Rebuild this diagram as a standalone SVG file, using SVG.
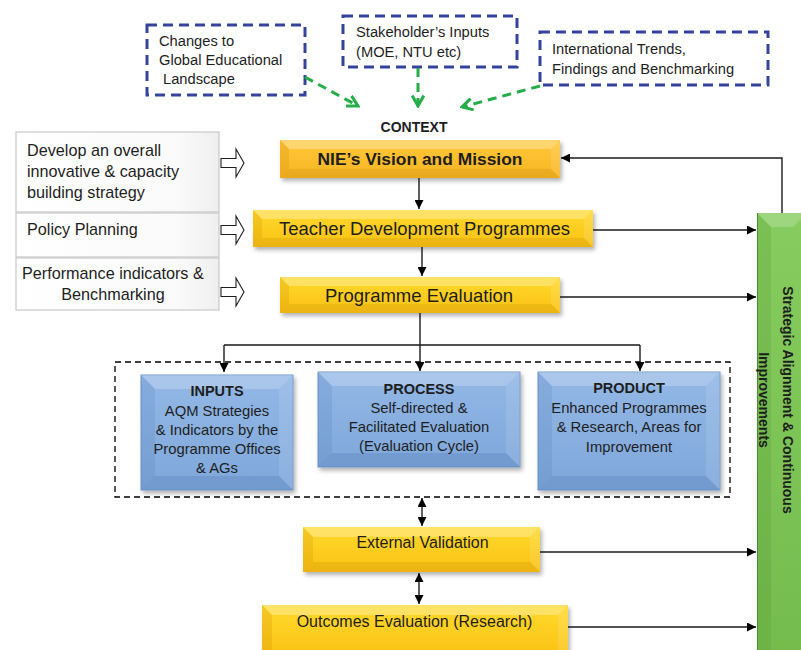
<svg xmlns="http://www.w3.org/2000/svg" width="801" height="650" viewBox="0 0 801 650">
<defs>
<linearGradient id="gY" x1="0" y1="0" x2="0" y2="1">
<stop offset="0" stop-color="#FFDA2E"/><stop offset="1" stop-color="#FAC012"/>
</linearGradient>
<linearGradient id="gYo" x1="0" y1="0" x2="0" y2="1">
<stop offset="0" stop-color="#FFC83A"/><stop offset="1" stop-color="#F8B522"/>
</linearGradient>
<linearGradient id="gB" x1="0" y1="0" x2="0" y2="1">
<stop offset="0" stop-color="#93B8E6"/><stop offset="1" stop-color="#7FA7DA"/>
</linearGradient>
<linearGradient id="gG" x1="0" y1="0" x2="0" y2="1">
<stop offset="0" stop-color="#86CC5E"/><stop offset="1" stop-color="#74BC4E"/>
</linearGradient>
<linearGradient id="gL" x1="0" y1="0" x2="1" y2="0">
<stop offset="0" stop-color="#FFFFFF"/><stop offset="0.8" stop-color="#FAFAFA"/><stop offset="1" stop-color="#EFEFEF"/>
</linearGradient>
<filter id="sh" x="-10%" y="-10%" width="130%" height="140%">
<feDropShadow dx="2" dy="3" stdDeviation="2" flood-color="#000" flood-opacity="0.3"/>
</filter>
<marker id="ah" viewBox="0 0 10 10" refX="10" refY="5" markerWidth="10" markerHeight="9" markerUnits="userSpaceOnUse" orient="auto-start-reverse">
<path d="M0,0 L10,5 L0,10 z" fill="#000"/>
</marker>
<marker id="gah" viewBox="0 0 12 12" refX="10" refY="6" markerWidth="14" markerHeight="14" markerUnits="userSpaceOnUse" orient="auto">
<path d="M1,1 L10,6 L1,11" fill="none" stroke="#25AE48" stroke-width="2.6"/>
</marker>
</defs>
<style>
text{font-family:"Liberation Sans",Arial,sans-serif;fill:#1E1E1E}
.ctx{fill:#fff;stroke:#35449B;stroke-width:3;stroke-dasharray:10 6}
.t15{font-size:14.7px}
.t16{font-size:16.2px}
.tb{font-size:14.8px}
.hb{font-size:14.5px;font-weight:bold}
.yt{font-size:18.5px}
.lbox{fill:url(#gL);stroke:#C8C8C8;stroke-width:1.2}
.ybox{fill:url(#gY);filter:url(#sh)}
.bbox{fill:url(#gB);stroke:#7396C8;stroke-width:1;filter:url(#sh)}
.bt{fill:#fff;opacity:0.28}
.bl{fill:#C07A00;opacity:0.18}
.br{fill:#fff;opacity:0.12}
.bb{fill:#8A5A00;opacity:0.12}
.bbt{fill:#fff;opacity:0.22}
.bbl{fill:#2C5A9A;opacity:0.12}
.bbr{fill:#fff;opacity:0.1}
.bbb{fill:#2C5A9A;opacity:0.16}
.blk{fill:#fff;stroke:#1E1E1E;stroke-width:1.1}
.ln{fill:none;stroke:#1A1A1A;stroke-width:1.4}
.gd{fill:none;stroke:#25AE48;stroke-width:3;stroke-dasharray:9 6}
</style>

<!-- context boxes -->
<g id="ctx-global">
<rect class="ctx" x="147" y="25" width="158" height="70"/>
<text class="t15" x="159" y="46">Changes to</text>
<text class="t15" x="159" y="65">Global Educational</text>
<text class="t15" x="163" y="84">Landscape</text>
</g>
<g id="ctx-stakeholder">
<rect class="ctx" x="343" y="16" width="174" height="51"/>
<text class="t15" x="356" y="37">Stakeholder’s Inputs</text>
<text class="t15" x="356" y="57">(MOE, NTU etc)</text>
</g>
<g id="ctx-international">
<rect class="ctx" x="540" y="32" width="228" height="53"/>
<text class="t15" x="552" y="54">International Trends,</text>
<text class="t15" x="552" y="74">Findings and Benchmarking</text>
</g>
<g id="context-label">
<text x="414" y="132" text-anchor="middle" style="font-size:14px;font-weight:bold">CONTEXT</text>
</g>

<!-- left boxes -->
<g id="left-strategy">
<rect class="lbox" x="16" y="132" width="203" height="80"/>
<text class="t16" x="27" y="156">Develop an overall</text>
<text class="t16" x="27" y="177">innovative &amp; capacity</text>
<text class="t16" x="27" y="198">building strategy</text>
<polygon class="blk" points="221,158.5 236,158.5 236,149 244,163 236,177 236,167.5 221,167.5"/>
</g>
<g id="left-policy">
<rect class="lbox" x="16" y="213" width="203" height="44"/>
<text class="t16" x="27" y="235">Policy Planning</text>
<polygon class="blk" points="221,225.5 236,225.5 236,216 244,230 236,244 236,234.5 221,234.5"/>
</g>
<g id="left-performance">
<rect class="lbox" x="16" y="258" width="203" height="52"/>
<text class="t16" x="22" y="279">Performance indicators &amp;</text>
<text class="t16" x="113" y="300" text-anchor="middle">Benchmarking</text>
<polygon class="blk" points="221,287.5 236,287.5 236,278 244,292 236,306 236,296.5 221,296.5"/>
</g>

<!-- yellow boxes -->
<g id="nie-vision">
<rect x="280" y="140" width="280" height="38" fill="url(#gYo)" filter="url(#sh)"/>
<polygon class="bt" points="280,140 560,140 551,149 289,149"/>
<polygon class="bb" points="280,178 560,178 551,169 289,169"/>
<polygon class="bl" points="280,140 289,149 289,169 280,178"/>
<polygon class="br" points="560,140 551,149 551,169 560,178"/>
<text x="420" y="165" text-anchor="middle" style="font-size:17.4px;font-weight:bold">NIE’s Vision and Mission</text>
</g>
<g id="teacher-dev">
<rect class="ybox" x="253" y="210" width="340" height="37"/>
<polygon class="bt" points="253,210 593,210 584,219 262,219"/>
<polygon class="bb" points="253,247 593,247 584,238 262,238"/>
<polygon class="bl" points="253,210 262,219 262,238 253,247"/>
<polygon class="br" points="593,210 584,219 584,238 593,247"/>
<text class="yt" x="424.5" y="235" text-anchor="middle">Teacher Development Programmes</text>
</g>
<g id="prog-eval">
<rect class="ybox" x="280" y="277" width="280" height="36"/>
<polygon class="bt" points="280,277 560,277 551,286 289,286"/>
<polygon class="bb" points="280,313 560,313 551,304 289,304"/>
<polygon class="bl" points="280,277 289,286 289,304 280,313"/>
<polygon class="br" points="560,277 551,286 551,304 560,313"/>
<text class="yt" x="419" y="302" text-anchor="middle">Programme Evaluation</text>
</g>

<!-- blue boxes -->
<g id="inputs">
<rect class="bbox" x="141" y="375" width="152" height="115"/>
<polygon class="bbt" points="141,375 293,375 279,389 155,389"/>
<polygon class="bbb" points="141,490 293,490 279,476 155,476"/>
<polygon class="bbl" points="141,375 155,389 155,476 141,490"/>
<polygon class="bbr" points="293,375 279,389 279,476 293,490"/>
<text class="hb" x="217" y="396" text-anchor="middle">INPUTS</text>
<text class="tb" x="217" y="416" text-anchor="middle">AQM Strategies</text>
<text class="tb" x="217" y="435" text-anchor="middle">&amp; Indicators by the</text>
<text class="tb" x="217" y="454" text-anchor="middle">Programme Offices</text>
<text class="tb" x="217" y="473" text-anchor="middle">&amp; AGs</text>
</g>
<g id="process">
<rect class="bbox" x="318" y="372" width="202" height="95"/>
<polygon class="bbt" points="318,372 520,372 506,386 332,386"/>
<polygon class="bbb" points="318,467 520,467 506,453 332,453"/>
<polygon class="bbl" points="318,372 332,386 332,453 318,467"/>
<polygon class="bbr" points="520,372 506,386 506,453 520,467"/>
<text class="hb" x="419" y="394" text-anchor="middle">PROCESS</text>
<text class="tb" x="419" y="413" text-anchor="middle">Self-directed &amp;</text>
<text class="tb" x="419" y="432" text-anchor="middle">Facilitated Evaluation</text>
<text class="tb" x="419" y="451" text-anchor="middle">(Evaluation Cycle)</text>
</g>
<g id="product">
<rect class="bbox" x="538" y="372" width="182" height="118"/>
<polygon class="bbt" points="538,372 720,372 706,386 552,386"/>
<polygon class="bbb" points="538,490 720,490 706,476 552,476"/>
<polygon class="bbl" points="538,372 552,386 552,476 538,490"/>
<polygon class="bbr" points="720,372 706,386 706,476 720,490"/>
<text class="hb" x="629" y="393" text-anchor="middle">PRODUCT</text>
<text class="tb" x="629" y="413" text-anchor="middle">Enhanced Programmes</text>
<text class="tb" x="629" y="432" text-anchor="middle">&amp; Research, Areas for</text>
<text class="tb" x="629" y="452" text-anchor="middle">Improvement</text>
</g>
<g id="evaluation-group">
<rect x="115" y="362" width="615" height="135" fill="none" stroke="#000" stroke-width="1.3" stroke-dasharray="6 4"/>
</g>

<!-- lower yellow boxes -->
<g id="ext-validation">
<rect class="ybox" x="303" y="527" width="237" height="45"/>
<polygon class="bt" points="303,527 540,527 530,537 313,537"/>
<polygon class="bb" points="303,572 540,572 530,562 313,562"/>
<polygon class="bl" points="303,527 313,537 313,562 303,572"/>
<polygon class="br" points="540,527 530,537 530,562 540,572"/>
<text x="422.5" y="548" text-anchor="middle" style="font-size:16px">External Validation</text>
</g>
<g id="outcomes">
<rect class="ybox" x="262" y="605" width="306" height="55"/>
<polygon class="bt" points="262,605 568,605 558,615 272,615"/>
<polygon class="bl" points="262,605 272,615 272,660 262,660"/>
<polygon class="br" points="568,605 558,615 558,660 568,660"/>
<text x="414.5" y="627" text-anchor="middle" style="font-size:16px">Outcomes Evaluation (Research)</text>
</g>

<!-- green bar -->
<g id="strategic-bar">
<rect x="757" y="213" width="50" height="447" fill="url(#gG)" filter="url(#sh)"/>
<polygon points="757,213 807,213 793,227 771,227" fill="#fff" opacity="0.2"/>
<polygon points="757,213 771,227 771,660 757,660" fill="#2E6A1A" opacity="0.12"/>
<line x1="757.5" y1="213" x2="757.5" y2="650" stroke="#4E8A34" stroke-width="1"/>
<g transform="translate(783,400) rotate(90)">
<text x="0" y="0" text-anchor="middle" style="font-size:14px;font-weight:bold">Strategic Alignment &amp; Continuous</text>
<text x="0" y="24" text-anchor="middle" style="font-size:14px;font-weight:bold">Improvements</text>
</g>
</g>

<!-- connectors -->
<g id="connectors">
<path class="gd" d="M305,77 L358,106" marker-end="url(#gah)"/>
<path class="gd" d="M418,68 L418,106" marker-end="url(#gah)"/>
<path class="gd" d="M540,86 L462,107" marker-end="url(#gah)"/>
<path class="ln" d="M419,178 L419,209" marker-end="url(#ah)"/>
<path class="ln" d="M422,247 L422,276" marker-end="url(#ah)"/>
<path class="ln" d="M420,313 L420,345 M224,345 L640,345"/>
<path class="ln" d="M224,345 L224,372" marker-end="url(#ah)"/>
<path class="ln" d="M420,345 L420,371" marker-end="url(#ah)"/>
<path class="ln" d="M640,345 L640,371" marker-end="url(#ah)"/>
<path class="ln" d="M422,498 L422,526" marker-start="url(#ah)" marker-end="url(#ah)"/>
<path class="ln" d="M419,573 L419,604" marker-start="url(#ah)" marker-end="url(#ah)"/>
<path class="ln" d="M593,230 L756,230" marker-end="url(#ah)"/>
<path class="ln" d="M560,297 L756,297" marker-end="url(#ah)"/>
<path class="ln" d="M540,552 L756,552" marker-end="url(#ah)"/>
<path class="ln" d="M568,627 L756,627" marker-end="url(#ah)"/>
<path class="ln" d="M782,213 L782,158 L561,158" marker-end="url(#ah)"/>
</g>
</svg>
